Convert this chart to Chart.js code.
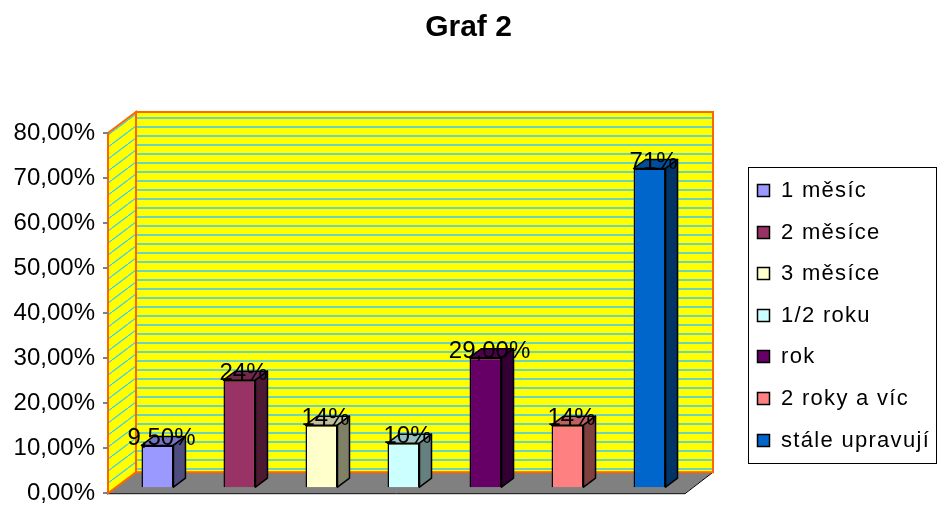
<!DOCTYPE html>
<html>
<head>
<meta charset="utf-8">
<script src="https://cdn.jsdelivr.net/npm/chart.js@4.4.0/dist/chart.umd.min.js"></script>
<style>
body { margin: 0; background: #fff; }
#wrap { width: 937px; height: 506px; }
</style>
</head>
<body>
<div id="wrap"><canvas id="canvas" width="937" height="506"></canvas></div>
<script>
//data
var categories = ['1 měsíc', '2 měsíce', '3 měsíce', '1/2 roku', 'rok', '2 roky a víc', 'stále upravují'];
var values = [9.5, 24, 14, 10, 29, 14, 71];
var valueLabels = ['9,50%', '24%', '14%', '10%', '29,00%', '14%', '71%'];
var yTickLabels = ['0,00%', '10,00%', '20,00%', '30,00%', '40,00%', '50,00%', '60,00%', '70,00%', '80,00%'];

//colors
var barColors = ['#9999FF', '#993366', '#FFFFCC', '#CCFFFF', '#660066', '#FF8080', '#0066CC'];
var FONT = "'Liberation Sans', Arial, sans-serif";

//3D depth
var WALL_DX = 28, WALL_DY = -21;
var BAR_SHIFT_X = 7, BAR_SHIFT_Y = -5;
var BAR_DX = 12, BAR_DY = -9;

function shade(hex, f) {
    var r = parseInt(hex.substr(1, 2), 16), g = parseInt(hex.substr(3, 2), 16), b = parseInt(hex.substr(5, 2), 16);
    return 'rgb(' + Math.round(r * f) + ',' + Math.round(g * f) + ',' + Math.round(b * f) + ')';
}

//patterns for the walls
function makeBackPattern(ctx) {
    var c = document.createElement('canvas');
    c.width = 8; c.height = 9;
    var p = c.getContext('2d');
    p.fillStyle = '#FFFF00';
    p.fillRect(0, 0, 8, 9);
    p.fillStyle = '#6ed3bd';
    p.fillRect(0, 0, 8, 2);
    return ctx.createPattern(c, 'repeat');
}

function makeSidePattern(ctx) {
    var c = document.createElement('canvas');
    c.width = 16; c.height = 12;
    var p = c.getContext('2d');
    p.fillStyle = '#FFFF00';
    p.fillRect(0, 0, 16, 12);
    p.strokeStyle = '#33ccff';
    p.lineWidth = 1.2;
    p.beginPath();
    p.moveTo(-1, 12.75);
    p.lineTo(17, -0.75);
    p.stroke();
    return ctx.createPattern(c, 'repeat');
}

var walls3d = {
    id: 'walls3d',
    beforeDraw: function(chart) {
        var ctx = chart.ctx;
        var y = chart.scales.y;
        var a = chart.chartArea;
        var top = y.getPixelForValue(80), bot = y.getPixelForValue(0);
        var l = a.left, r = a.right;
        ctx.save();
        //floor
        ctx.fillStyle = '#808080';
        ctx.beginPath();
        ctx.moveTo(l, bot);
        ctx.lineTo(l + WALL_DX, bot + WALL_DY);
        ctx.lineTo(r + WALL_DX, bot + WALL_DY);
        ctx.lineTo(r, bot);
        ctx.closePath();
        ctx.fill();
        ctx.strokeStyle = '#000';
        ctx.lineWidth = 1;
        ctx.beginPath();
        ctx.moveTo(l, bot + 0.5);
        ctx.lineTo(r, bot + 0.5);
        ctx.lineTo(r + WALL_DX, bot + WALL_DY);
        ctx.stroke();
        //back wall
        ctx.fillStyle = makeBackPattern(ctx);
        ctx.fillRect(l + WALL_DX, top + WALL_DY, r - l, bot - top);
        ctx.strokeStyle = '#FF6600';
        ctx.lineWidth = 2;
        ctx.strokeRect(l + WALL_DX, top + WALL_DY, r - l, bot - top);
        //left wall
        ctx.fillStyle = makeSidePattern(ctx);
        ctx.beginPath();
        ctx.moveTo(l, top);
        ctx.lineTo(l + WALL_DX, top + WALL_DY);
        ctx.lineTo(l + WALL_DX, bot + WALL_DY);
        ctx.lineTo(l, bot);
        ctx.closePath();
        ctx.fill();
        ctx.stroke();
        ctx.restore();
    },
    beforeDatasetsDraw: function(chart) {
        chart.ctx.save();
        chart.ctx.translate(BAR_SHIFT_X, BAR_SHIFT_Y);
    },
    afterDatasetsDraw: function(chart) {
        var ctx = chart.ctx;
        chart.data.datasets.forEach(function(ds, i) {
            var bar = chart.getDatasetMeta(i).data[0];
            var l = bar.x - bar.width / 2, r = bar.x + bar.width / 2;
            var t = bar.y, b = bar.base;
            ctx.lineWidth = 1.5;
            ctx.strokeStyle = '#000';
            ctx.lineJoin = 'round';
            //top
            ctx.fillStyle = shade(barColors[i], 0.75);
            ctx.beginPath();
            ctx.moveTo(l, t);
            ctx.lineTo(l + BAR_DX, t + BAR_DY);
            ctx.lineTo(r + BAR_DX, t + BAR_DY);
            ctx.lineTo(r, t);
            ctx.closePath();
            ctx.fill();
            ctx.stroke();
            //side
            ctx.fillStyle = shade(barColors[i], 0.5);
            ctx.beginPath();
            ctx.moveTo(r, t);
            ctx.lineTo(r + BAR_DX, t + BAR_DY);
            ctx.lineTo(r + BAR_DX, b + BAR_DY);
            ctx.lineTo(r, b);
            ctx.closePath();
            ctx.fill();
            ctx.stroke();
        });
        //value labels
        ctx.fillStyle = '#000';
        ctx.font = '24px ' + FONT;
        ctx.textAlign = 'center';
        ctx.textBaseline = 'alphabetic';
        chart.data.datasets.forEach(function(ds, i) {
            var bar = chart.getDatasetMeta(i).data[0];
            ctx.fillText(valueLabels[i], bar.x + 4, bar.y);
        });
        ctx.restore();
    },
    afterDraw: function(chart) {
        //legend box
        var ctx = chart.ctx;
        ctx.save();
        ctx.strokeStyle = '#000';
        ctx.lineWidth = 1;
        ctx.strokeRect(748.5, 167.5, 188, 296);
        ctx.font = '22px ' + FONT;
        ctx.letterSpacing = '1.3px';
        ctx.textAlign = 'left';
        ctx.textBaseline = 'middle';
        chart.data.datasets.forEach(function(ds, i) {
            var cy = 190 + i * 41.6;
            ctx.fillStyle = ds.backgroundColor;
            ctx.fillRect(757.5, Math.round(cy - 6) + 0.5, 12, 12);
            ctx.lineWidth = 1.5;
            ctx.strokeRect(757.5, Math.round(cy - 6) + 0.5, 12, 12);
            ctx.fillStyle = '#000';
            ctx.fillText(ds.label, 781, cy + 1);
        });
        ctx.restore();
    }
};

var datasets = categories.map(function(c, i) {
    return {
        label: c,
        data: [values[i]],
        backgroundColor: barColors[i],
        borderColor: '#000',
        borderWidth: 1.5,
        clip: false
    };
});

var ctx = document.getElementById('canvas').getContext('2d');
var chart = new Chart(ctx, {
    type: 'bar',
    data: { labels: [''], datasets: datasets },
    plugins: [walls3d],
    options: {
        responsive: false,
        animation: false,
        layout: { padding: { top: 0, left: 0, right: 0, bottom: 8 } },
        datasets: { bar: { categoryPercentage: 0.995, barPercentage: 0.39 } },
        plugins: {
            legend: { display: false },
            tooltip: { enabled: false },
            title: {
                display: true,
                text: 'Graf 2',
                color: '#000',
                font: { family: FONT, size: 30, weight: 'bold' },
                padding: { top: 10, bottom: 87 }
            }
        },
        scales: {
            x: { display: false },
            y: {
                min: 0,
                max: 80,
                ticks: {
                    stepSize: 10,
                    color: '#000',
                    padding: 8,
                    font: { family: FONT, size: 24, lineHeight: 0.4 },
                    callback: function(v, idx) { return yTickLabels[idx]; }
                },
                grid: { drawOnChartArea: false, tickLength: 5, color: '#808080', lineWidth: 2 },
                border: { display: false },
                afterFit: function(s) { s.width = 108; }
            },
            //empty axis that only holds the room for the legend
            yRoom: {
                position: 'right',
                ticks: { display: false },
                grid: { display: false },
                border: { display: false },
                afterFit: function(s) { s.width = 252; }
            }
        }
    }
});
</script>
</body>
</html>
